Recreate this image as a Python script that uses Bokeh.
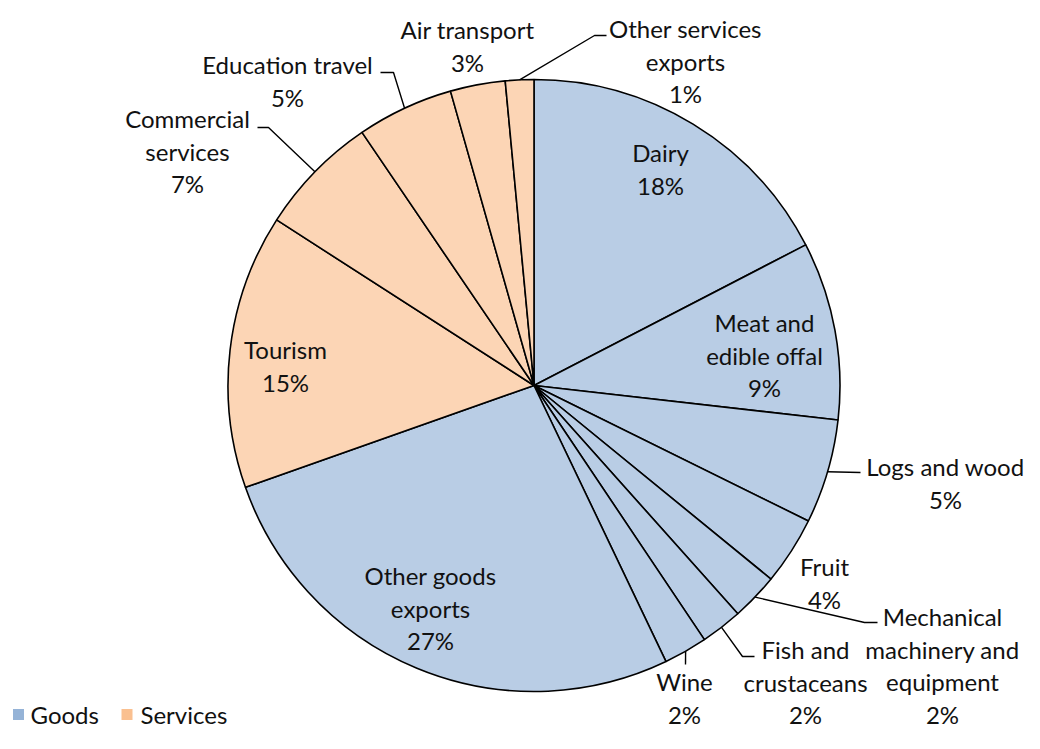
import math
from bokeh.plotting import figure
from bokeh.models import Range1d, ColumnDataSource
from bokeh.core.properties import value
from bokeh.embed import file_html
from bokeh.resources import INLINE

# ---- data ----
categories = ["Dairy", "Meat and edible offal", "Logs and wood", "Fruit",
              "Mechanical machinery and equipment", "Fish and crustaceans", "Wine",
              "Other goods exports", "Tourism", "Commercial services",
              "Education travel", "Air transport", "Other services exports"]
shares = [17.4, 9.4, 5.5, 3.6, 2.5, 2.2, 2.3, 26.7, 14.5, 6.4, 5.1, 2.9, 1.5]
groups = ["Goods"] * 8 + ["Services"] * 5
pct_text = ["18%", "9%", "5%", "4%", "2%", "2%", "2%", "27%", "15%", "7%", "5%", "3%", "1%"]
label_lines = [["Dairy"], ["Meat and", "edible offal"], ["Logs and wood"], ["Fruit"],
               ["Mechanical", "machinery and", "equipment"], ["Fish and", "crustaceans"], ["Wine"],
               ["Other goods", "exports"], ["Tourism"], ["Commercial", "services"],
               ["Education travel"], ["Air transport"], ["Other services", "exports"]]
legend_names = ["Goods", "Services"]

# ---- style / layout (pixel coordinates of the picture, origin top-left) ----
W, H = 1024, 733
PAGE_H = 749
fill_colors = {"Goods": "#B9CDE5", "Services": "#FCD5B5"}
legend_colors = {"Goods": "#95B3D7", "Services": "#FAC090"}
CX, CY, R = 533.5, 385.0, 306.0
FONT = value("Lato")
FS = "24px"
LINE_H = 32.7
label_pos = [(660, 152), (764, 322), (945, 466), (824, 566), (942, 616), (805, 649),
             (684, 681), (430, 575), (285, 349), (187, 118), (287, 64), (467, 29), (685, 28)]
leader_pts = {2: [(860, 472)],
              4: [(864, 622), (877, 622)],
              5: [(742, 656), (754, 656)],
              6: [(685, 664)],
              9: [(268, 127), (257, 127)],
              10: [(393, 72), (380, 72)],
              12: [(594, 35), (606, 35)]}
leg_sq_x = [18, 126.5]
leg_tx = [30, 140]
leg_y = 714


def dy(sy):
    return PAGE_H - sy


p = figure(width=W, height=H, output_backend="svg", toolbar_location=None,
           x_range=Range1d(0, W), y_range=Range1d(PAGE_H - H, PAGE_H),
           x_axis_type=None, y_axis_type=None, min_border=0)
p.outline_line_color = None
p.background_fill_color = "white"
p.border_fill_color = "white"

total = sum(shares)
starts, ends, mids = [], [], []
cum = 0.0
for v in shares:
    a0 = math.pi / 2 - 2 * math.pi * cum / total
    cum += v
    a1 = math.pi / 2 - 2 * math.pi * cum / total
    starts.append(a0)
    ends.append(a1)
    mids.append((a0 + a1) / 2)

src = ColumnDataSource(dict(start=starts, end=ends,
                            color=[fill_colors[g] for g in groups],
                            name=categories, share=shares))
p.wedge(x=CX, y=dy(CY), radius=R, start_angle="start", end_angle="end",
        direction="clock", fill_color="color", line_color="black", line_width=1.6,
        source=src)

# leader lines
for i, pts in leader_pts.items():
    ex = CX + R * math.cos(mids[i])
    ey = dy(CY) + R * math.sin(mids[i])
    xs = [ex] + [q[0] for q in pts]
    ys = [ey] + [dy(q[1]) for q in pts]
    p.line(xs, ys, line_color="black", line_width=1.4)

# labels
tx, ty, tt = [], [], []
for i, lines in enumerate(label_lines):
    x0, y0 = label_pos[i]
    for k, s in enumerate(lines + [pct_text[i]]):
        tx.append(x0)
        ty.append(dy(y0 + k * LINE_H))
        tt.append(s)
p.text(x=tx, y=ty, text=tt, text_font=FONT, text_font_size=FS,
       text_align="center", text_baseline="middle", text_color="#111111")

# legend
p.scatter(x=leg_sq_x, y=[dy(leg_y)] * 2, marker="square", size=11,
          fill_color=[legend_colors[g] for g in legend_names], line_color=None)
p.text(x=leg_tx, y=[dy(leg_y)] * 2, text=legend_names, text_font=FONT, text_font_size=FS,
       text_align="left", text_baseline="middle", text_color="#111111")

open("out.html", "w").write(file_html(p, INLINE))
